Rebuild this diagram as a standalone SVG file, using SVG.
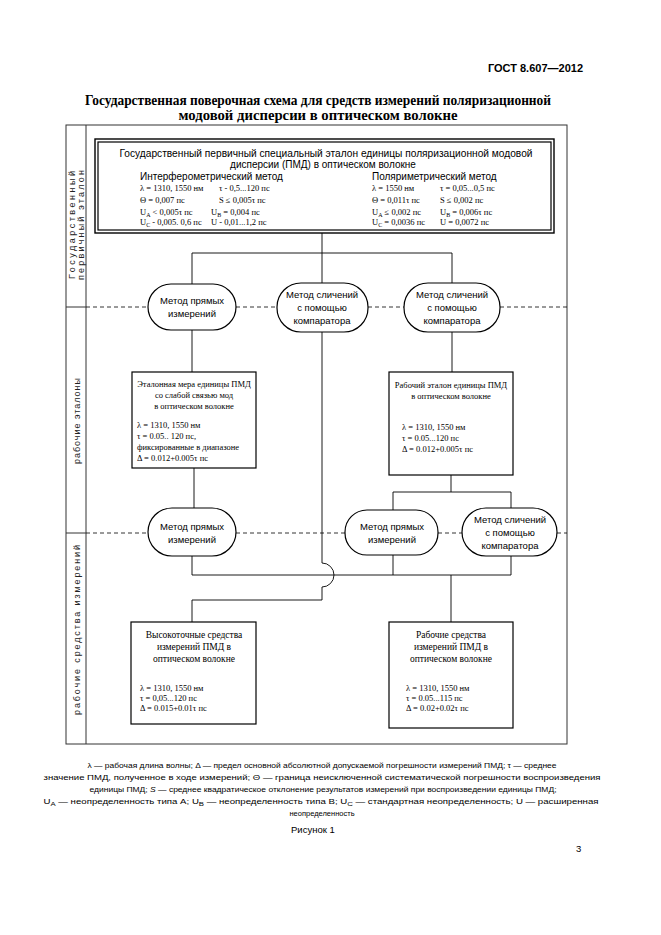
<svg xmlns="http://www.w3.org/2000/svg" width="661" height="935" viewBox="0 0 661 935">
<style>
.s{font-family:"Liberation Sans",Arial,sans-serif;fill:#000}
.r{font-family:"Liberation Serif","Times New Roman",serif;fill:#000}
.p{font-family:"Liberation Serif","Times New Roman",serif;font-size:8.5px;fill:#000}
.o{font-family:"Liberation Sans",Arial,sans-serif;font-size:9.5px;fill:#000;text-anchor:middle}
.bx{fill:#fff;stroke:#000;stroke-width:1.2}
.ov{fill:#fff;stroke:#000;stroke-width:1.2}
.ln{fill:none;stroke:#000;stroke-width:0.9}
.ds{fill:none;stroke:#000;stroke-width:0.8;stroke-dasharray:4,3}
.fr{fill:none;stroke:#333;stroke-width:1}
.c{text-anchor:middle}
.lane{font-family:"Liberation Sans",Arial,sans-serif;font-size:9px;fill:#222;text-anchor:middle}
</style>
<rect width="661" height="935" fill="#fff"/>
<text class="s" x="583" y="72" font-size="11" font-weight="bold" text-anchor="end">ГОСТ 8.607—2012</text>
<text class="r c" x="318" y="105" font-size="14" font-weight="bold" textLength="466" lengthAdjust="spacingAndGlyphs">Государственная поверочная схема для средств измерений поляризационной</text>
<text class="r c" x="318" y="120" font-size="14" font-weight="bold" textLength="279" lengthAdjust="spacingAndGlyphs">модовой дисперсии в оптическом волокне</text>

<g id="frame">
<rect class="fr" x="66" y="125" width="501" height="619"/>
<line class="fr" x1="86" y1="125" x2="86" y2="744"/>
<line class="fr" x1="66" y1="307" x2="86" y2="307"/>
<line class="fr" x1="66" y1="533" x2="86" y2="533"/>
<text class="lane" transform="translate(75,225) rotate(-90)" textLength="108" lengthAdjust="spacing">Государственный</text>
<text class="lane" transform="translate(84,225) rotate(-90)" textLength="110" lengthAdjust="spacing">первичный эталон</text>
<text class="lane" transform="translate(80,421) rotate(-90)" textLength="86" lengthAdjust="spacing">рабочие эталоны</text>
<text class="lane" transform="translate(80,630) rotate(-90)" textLength="170" lengthAdjust="spacing">рабочие средства измерений</text>
</g>

<g id="connectors">
<path class="ds" d="M86,307H148M236,307H277M368,307H404M500,307H567"/>
<path class="ds" d="M86,533H148M236,533H345M438,533H462M557,533H567"/>
<path class="ln" d="M322,233V283M192,253H452M192,253V284M452,253V284"/>
<path class="ln" d="M192,330V372M452,330V372"/>
<path class="ln" d="M322,332V563A12,12 0 0 1 322,587V600H192V622"/>
<path class="ln" d="M194,468V508"/>
<path class="ln" d="M451,475V492M393,492H511M393,492V510M511,492V508"/>
<path class="ln" d="M192,556V575H511M393,555V575M511,556V575M451,575V622"/>
</g>

<g id="primary">
<rect x="95" y="139" width="459" height="94" fill="#fff" stroke="#000" stroke-width="1.4"/>
<rect x="98" y="142" width="453" height="88" fill="none" stroke="#000" stroke-width="1.2"/>
<text class="s c" x="326" y="157" font-size="10" textLength="413" lengthAdjust="spacingAndGlyphs">Государственный первичный специальный эталон единицы поляризационной модовой</text>
<text class="s c" x="323" y="168" font-size="10">дисперсии (ПМД) в оптическом волокне</text>
<text class="s" x="140" y="180" font-size="10">Интерферометрический метод</text>
<text class="s" x="372" y="180" font-size="10">Поляриметрический метод</text>
<text class="p" x="140" y="191">λ = 1310, 1550 нм</text>
<text class="p" x="219" y="191">τ - 0,5...120 пс</text>
<text class="p" x="140" y="203">Θ = 0,007 пс</text>
<text class="p" x="219" y="203">S ≤ 0,005τ пс</text>
<text class="p" x="140" y="215">U<tspan font-size="6" dy="2">A</tspan><tspan dy="-2"> &lt; 0,005τ пс</tspan></text>
<text class="p" x="211" y="215">U<tspan font-size="6" dy="2">B</tspan><tspan dy="-2"> = 0,004 пс</tspan></text>
<text class="p" x="140" y="225">U<tspan font-size="6" dy="2">C</tspan><tspan dy="-2"> - 0,005.  0,6 пс</tspan></text>
<text class="p" x="211" y="225">U - 0,01...1,2 пс</text>
<text class="p" x="372" y="191">λ = 1550 нм</text>
<text class="p" x="440" y="191">τ = 0,05...0,5 пс</text>
<text class="p" x="372" y="203">Θ = 0,011τ пс</text>
<text class="p" x="440" y="203">S ≤ 0,002 пс</text>
<text class="p" x="372" y="215">U<tspan font-size="6" dy="2">A</tspan><tspan dy="-2"> ≤ 0,002 пс</tspan></text>
<text class="p" x="440" y="215">U<tspan font-size="6" dy="2">B</tspan><tspan dy="-2"> = 0,006τ пс</tspan></text>
<text class="p" x="372" y="225">U<tspan font-size="6" dy="2">C</tspan><tspan dy="-2"> = 0,0036 пс</tspan></text>
<text class="p" x="440" y="225">U = 0,0072 пс</text>
</g>

<g id="m1">
<rect class="ov" x="148" y="284" width="88" height="46" rx="23"/>
<text class="o" x="192" y="304">Метод прямых</text>
<text class="o" x="192" y="317">измерений</text>
</g>
<g id="m2">
<rect class="ov" x="277" y="283" width="91" height="49" rx="24"/>
<text class="o" x="322" y="298">Метод сличений</text>
<text class="o" x="322" y="311">с помощью</text>
<text class="o" x="322" y="324">компаратора</text>
</g>
<g id="m3">
<rect class="ov" x="404" y="283" width="96" height="49" rx="24"/>
<text class="o" x="452" y="298">Метод сличений</text>
<text class="o" x="452" y="311">с помощью</text>
<text class="o" x="452" y="324">компаратора</text>
</g>

<g id="we1">
<rect class="bx" x="132" y="372" width="124" height="96"/>
<text class="p c" x="194" y="387">Эталонная мера единицы ПМД</text>
<text class="p c" x="194" y="398">со слабой связью мод</text>
<text class="p c" x="194" y="409">в оптическом волокне</text>
<text class="p" x="137" y="428">λ = 1310, 1550 нм</text>
<text class="p" x="137" y="439">τ = 0.05.. 120 пс,</text>
<text class="p" x="137" y="450">фиксированные в диапазоне</text>
<text class="p" x="137" y="461">Δ = 0.012+0.005τ пс</text>
</g>
<g id="we2">
<rect class="bx" x="389" y="372" width="124" height="103"/>
<text class="p c" x="451" y="388">Рабочий эталон единицы ПМД</text>
<text class="p c" x="451" y="399">в оптическом волокне</text>
<text class="p" x="402" y="430">λ = 1310, 1550 нм</text>
<text class="p" x="402" y="441">τ = 0.05...120 пс</text>
<text class="p" x="402" y="452">Δ = 0.012+0.005τ пс</text>
</g>

<g id="m4">
<rect class="ov" x="148" y="508" width="88" height="48" rx="24"/>
<text class="o" x="192" y="530">Метод прямых</text>
<text class="o" x="192" y="543">измерений</text>
</g>
<g id="m5">
<rect class="ov" x="345" y="510" width="93" height="45" rx="22"/>
<text class="o" x="392" y="530">Метод прямых</text>
<text class="o" x="392" y="543">измерений</text>
</g>
<g id="m6">
<rect class="ov" x="462" y="508" width="95" height="48" rx="24"/>
<text class="o" x="510" y="523">Метод сличений</text>
<text class="o" x="510" y="536">с помощью</text>
<text class="o" x="510" y="549">компаратора</text>
</g>

<g id="mi1">
<rect class="bx" x="131" y="622" width="125" height="102"/>
<text class="r c" x="194" y="638" font-size="9.5">Высокоточные средства</text>
<text class="r c" x="194" y="650" font-size="9.5">измерений ПМД в</text>
<text class="r c" x="194" y="662" font-size="9.5">оптическом волокне</text>
<text class="p" x="140" y="691">λ = 1310, 1550 нм</text>
<text class="p" x="140" y="701">τ = 0,05...120 пс</text>
<text class="p" x="140" y="711">Δ = 0.015+0.01τ пс</text>
</g>
<g id="mi2">
<rect class="bx" x="389" y="622" width="124" height="106"/>
<text class="r c" x="451" y="638" font-size="9.5">Рабочие средства</text>
<text class="r c" x="451" y="650" font-size="9.5">измерений ПМД в</text>
<text class="r c" x="451" y="662" font-size="9.5">оптическом волокне</text>
<text class="p" x="406" y="691">λ = 1310, 1550 нм</text>
<text class="p" x="406" y="701">τ = 0.05...115 пс</text>
<text class="p" x="406" y="711">Δ = 0.02+0.02τ пс</text>
</g>

<g id="notes" class="s" font-size="7.5" text-anchor="middle">
<text x="322" y="768" textLength="469" lengthAdjust="spacingAndGlyphs">λ — рабочая длина волны; Δ — предел основной абсолютной допускаемой погрешности измерений ПМД; τ — среднее</text>
<text x="322" y="780" textLength="557" lengthAdjust="spacingAndGlyphs">значение ПМД, полученное в ходе измерений; Θ — граница неисключенной систематической погрешности воспроизведения</text>
<text x="323" y="792" textLength="467" lengthAdjust="spacingAndGlyphs">единицы ПМД; <tspan font-style="italic">S</tspan> — среднее квадратическое отклонение результатов измерений при воспроизведении единицы ПМД;</text>
<text x="321" y="804" textLength="555" lengthAdjust="spacingAndGlyphs">U<tspan font-size="6" dy="2">A</tspan><tspan dy="-2"> — неопределенность типа A; U</tspan><tspan font-size="6" dy="2">B</tspan><tspan dy="-2"> — неопределенность типа B; U</tspan><tspan font-size="6" dy="2">C</tspan><tspan dy="-2"> — стандартная неопределенность; U — расширенная</tspan></text>
<text x="322" y="816">неопределенность</text>
</g>
<text class="s" x="291" y="833" font-size="9.5">Рисунок 1</text>
<text class="s" x="576" y="852" font-size="9.5">3</text>
</svg>
